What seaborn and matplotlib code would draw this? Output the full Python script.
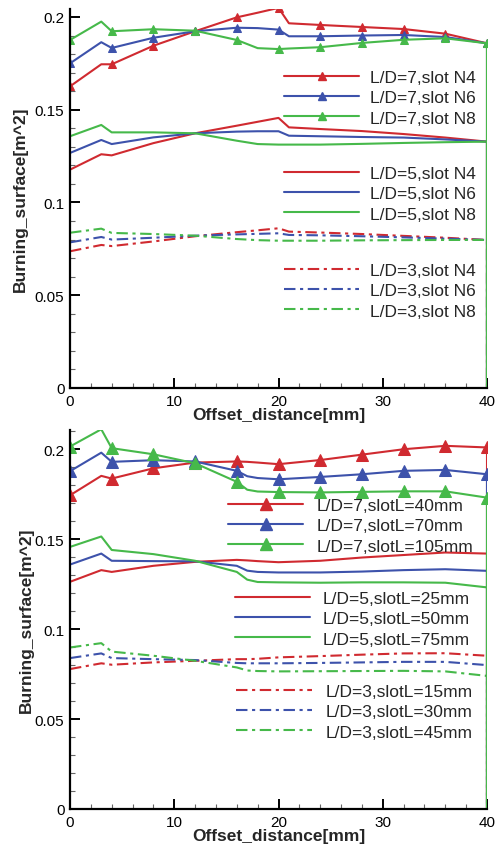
import matplotlib
matplotlib.use("Agg")
import matplotlib.pyplot as plt
from matplotlib.lines import Line2D
from matplotlib.ticker import MultipleLocator
import seaborn as sns
import pandas as pd

# ---------------- data ----------------
X_TOP = [0, 3, 4, 8, 12, 16, 18, 20, 21, 24, 28, 32, 36, 40, 40]
MARK_TOP = [0, 2, 3, 4, 5, 7, 9, 10, 11, 12, 13]

top_L7_N4 = [0.1626, 0.1745, 0.1745, 0.1845, 0.1923, 0.1998, 0.2023, 0.2049, 0.1966, 0.1957, 0.1946, 0.1935, 0.1910, 0.1858, 0]
top_L7_N6 = [0.1750, 0.1864, 0.1833, 0.1888, 0.1923, 0.1942, 0.1940, 0.1932, 0.1896, 0.1896, 0.1900, 0.1903, 0.1892, 0.1858, 0]
top_L7_N8 = [0.1876, 0.1975, 0.1923, 0.1934, 0.1926, 0.1876, 0.1832, 0.1827, 0.1830, 0.1837, 0.1860, 0.1877, 0.1885, 0.1858, 0]

top_L5_N4 = [0.1177, 0.1260, 0.1254, 0.1320, 0.1373, 0.1414, 0.1435, 0.1456, 0.1405, 0.1396, 0.1385, 0.1369, 0.1350, 0.1328, 0]
top_L5_N6 = [0.1267, 0.1337, 0.1315, 0.1351, 0.1373, 0.1382, 0.1384, 0.1384, 0.1360, 0.1357, 0.1353, 0.1350, 0.1340, 0.1328, 0]
top_L5_N8 = [0.1357, 0.1418, 0.1378, 0.1378, 0.1373, 0.1333, 0.1315, 0.1312, 0.1312, 0.1312, 0.1316, 0.1321, 0.1325, 0.1328, 0]

top_L3_N4 = [0.0737, 0.0771, 0.0765, 0.0790, 0.0818, 0.0840, 0.0850, 0.0861, 0.0843, 0.0838, 0.0830, 0.0820, 0.0810, 0.0798, 0]
top_L3_N6 = [0.0785, 0.0814, 0.0800, 0.0810, 0.0821, 0.0828, 0.0831, 0.0834, 0.0825, 0.0823, 0.0818, 0.0812, 0.0805, 0.0798, 0]
top_L3_N8 = [0.0837, 0.0859, 0.0836, 0.0830, 0.0821, 0.0803, 0.0797, 0.0794, 0.0794, 0.0794, 0.0796, 0.0797, 0.0798, 0.0798, 0]

X_BOT = [0, 3, 4, 8, 12, 16, 17, 18, 20, 24, 28, 32, 36, 40, 40]
MARK_BOT = [0, 2, 3, 4, 5, 8, 9, 10, 11, 12, 13]

bot_L7_40 = [0.1744, 0.1852, 0.1837, 0.1894, 0.1926, 0.1932, 0.1930, 0.1926, 0.1917, 0.1940, 0.1970, 0.2000, 0.2019, 0.2010, 0]
bot_L7_70 = [0.1878, 0.1981, 0.1930, 0.1939, 0.1932, 0.1880, 0.1850, 0.1840, 0.1833, 0.1846, 0.1861, 0.1880, 0.1885, 0.1861, 0]
bot_L7_105 = [0.2015, 0.2111, 0.2006, 0.1972, 0.1922, 0.1819, 0.1775, 0.1765, 0.1762, 0.1760, 0.1763, 0.1766, 0.1766, 0.1731, 0]

bot_L5_25 = [0.1263, 0.1328, 0.1318, 0.1352, 0.1374, 0.1385, 0.1382, 0.1378, 0.1372, 0.1380, 0.1398, 0.1412, 0.1426, 0.1420, 0]
bot_L5_50 = [0.1359, 0.1420, 0.1380, 0.1378, 0.1377, 0.1352, 0.1325, 0.1318, 0.1315, 0.1315, 0.1320, 0.1328, 0.1333, 0.1324, 0]
bot_L5_75 = [0.1457, 0.1515, 0.1440, 0.1417, 0.1380, 0.1318, 0.1275, 0.1262, 0.1260, 0.1258, 0.1260, 0.1260, 0.1258, 0.1232, 0]

bot_L3_15 = [0.0778, 0.0810, 0.0802, 0.0815, 0.0824, 0.0833, 0.0833, 0.0835, 0.0843, 0.0850, 0.0858, 0.0865, 0.0866, 0.0852, 0]
bot_L3_30 = [0.0839, 0.0865, 0.0839, 0.0833, 0.0828, 0.0812, 0.0810, 0.0810, 0.0810, 0.0812, 0.0815, 0.0818, 0.0818, 0.0800, 0]
bot_L3_45 = [0.0898, 0.0922, 0.0875, 0.0852, 0.0824, 0.0787, 0.0770, 0.0767, 0.0765, 0.0766, 0.0767, 0.0768, 0.0765, 0.0740, 0]

top_labels = ["L/D=7,slot N4", "L/D=7,slot N6", "L/D=7,slot N8",
              "L/D=5,slot N4", "L/D=5,slot N6", "L/D=5,slot N8",
              "L/D=3,slot N4", "L/D=3,slot N6", "L/D=3,slot N8"]
bot_labels = ["L/D=7,slotL=40mm", "L/D=7,slotL=70mm", "L/D=7,slotL=105mm",
              "L/D=5,slotL=25mm", "L/D=5,slotL=50mm", "L/D=5,slotL=75mm",
              "L/D=3,slotL=15mm", "L/D=3,slotL=30mm", "L/D=3,slotL=45mm"]

X_LABEL = "Offset_distance[mm]"
Y_LABEL = "Burning_surface[m^2]"

# ---------------- style ----------------
sns.set_theme(style="ticks")
plt.rcParams['font.family'] = ['Liberation Sans', 'DejaVu Sans']

RED = "#d02a30"
BLUE = "#3d52ab"
GREEN = "#46b94a"
COLORS = [RED, BLUE, GREEN]
LW = 1.5
DASHDOT = (0, (5.5, 2.2, 1.5, 2.2))

W, H = 499, 845
fig = plt.figure(figsize=(W / 100, H / 100), dpi=100)


def px_axes(l, t, r, b):
    return fig.add_axes([l / W, 1 - b / H, (r - l) / W, (b - t) / H])


ax1 = px_axes(70, 10, 487, 389)
ax2 = px_axes(70, 431, 487, 810)

top_series = [top_L7_N4, top_L7_N6, top_L7_N8, top_L5_N4, top_L5_N6, top_L5_N8,
              top_L3_N4, top_L3_N6, top_L3_N8]
bot_series = [bot_L7_40, bot_L7_70, bot_L7_105, bot_L5_25, bot_L5_50, bot_L5_75,
              bot_L3_15, bot_L3_30, bot_L3_45]

# draw so that the green goes on top
order = [6, 7, 8, 3, 4, 5, 0, 1, 2]


def draw_ordered(ax, X, series, marks, msize):
    styles = ["-"] * 6 + [DASHDOT] * 3
    for i in order:
        y = series[i]
        c = COLORS[i % 3]
        kw = dict(color=c, lw=LW, linestyle=styles[i])
        if i < 3:
            kw.update(marker="^", markevery=marks, markersize=msize,
                      markeredgecolor=c, markerfacecolor=c)
        df = pd.DataFrame({"x": X, "y": y})
        sns.lineplot(data=df, x="x", y="y", ax=ax, sort=False,
                     estimator=None, legend=False, **kw)


draw_ordered(ax1, X_TOP, top_series, MARK_TOP, 6)
draw_ordered(ax2, X_BOT, bot_series, MARK_BOT, 8)

for ax, ytop, ylx in [(ax1, 0.2043, -0.12), (ax2, 0.2107, -0.104)]:
    ax.set_xlim(0, 40)
    ax.set_ylim(0, ytop)
    ax.xaxis.set_major_locator(MultipleLocator(10))
    ax.xaxis.set_minor_locator(MultipleLocator(2))
    ax.yaxis.set_major_locator(MultipleLocator(0.05))
    ax.yaxis.set_minor_locator(MultipleLocator(0.01))
    ax.yaxis.set_major_formatter(matplotlib.ticker.FuncFormatter(
        lambda v, p: "0" if abs(v) < 1e-9 else ("%g" % round(v, 3))))
    ax.tick_params(which="major", direction="in", length=7, width=1.4,
                   labelsize=11, pad=4, colors="black")
    ax.tick_params(which="minor", direction="in", length=3.5, width=0.8,
                   color="#666666")
    for s in ["top", "right"]:
        ax.spines[s].set_visible(False)
    for s in ["left", "bottom"]:
        ax.spines[s].set_linewidth(1.6)
        ax.spines[s].set_color("black")
    ax.set_facecolor("white")
    ax.set_xlabel(X_LABEL, fontsize=12.5, fontweight="bold")
    ax.set_ylabel(Y_LABEL, fontsize=12.5, fontweight="bold")
    ax.yaxis.set_label_coords(ylx, 0.5)
    ax.yaxis.label.set_va("center")
    ax.xaxis.label.set_va("center")

ax1.xaxis.set_label_coords(0.5, -(416 - 389) / 379)
ax2.xaxis.set_label_coords(0.5, -(837 - 810) / 379)

FS = 12.5


def add_legend(idx, labels, left, row1, hlen_px, text_px, msize):
    handles = []
    for i in idx:
        c = COLORS[i % 3]
        if i < 3:
            h = Line2D([], [], color=c, lw=LW, marker="^", markersize=msize,
                       markerfacecolor=c, markeredgecolor=c)
        elif i < 6:
            h = Line2D([], [], color=c, lw=LW, linestyle="-")
        else:
            h = Line2D([], [], color=c, lw=LW, linestyle=DASHDOT)
        handles.append(h)
    fspx = FS * 100 / 72
    leg = fig.legend(handles, [labels[i] for i in idx], loc="upper left",
                     bbox_to_anchor=(left / W, 1 - (row1 - 6) / H),
                     bbox_transform=fig.transFigure, frameon=False,
                     fontsize=FS, borderpad=0, borderaxespad=0,
                     handlelength=hlen_px / fspx,
                     handletextpad=(text_px - left - hlen_px) / fspx,
                     labelspacing=0.29, markerscale=1.0)
    return leg


add_legend([0, 1, 2], top_labels, 284, 77, 75, 370, 6)
add_legend([3, 4, 5], top_labels, 284, 173, 75, 370, 6)
add_legend([6, 7, 8], top_labels, 284, 270, 75, 370, 6)
add_legend([0, 1, 2], bot_labels, 228, 505, 75, 317, 8)
add_legend([3, 4, 5], bot_labels, 235, 598, 75, 323, 8)
add_legend([6, 7, 8], bot_labels, 236, 691, 76, 326, 8)

fig.savefig("out.png", dpi=100, facecolor="white")
